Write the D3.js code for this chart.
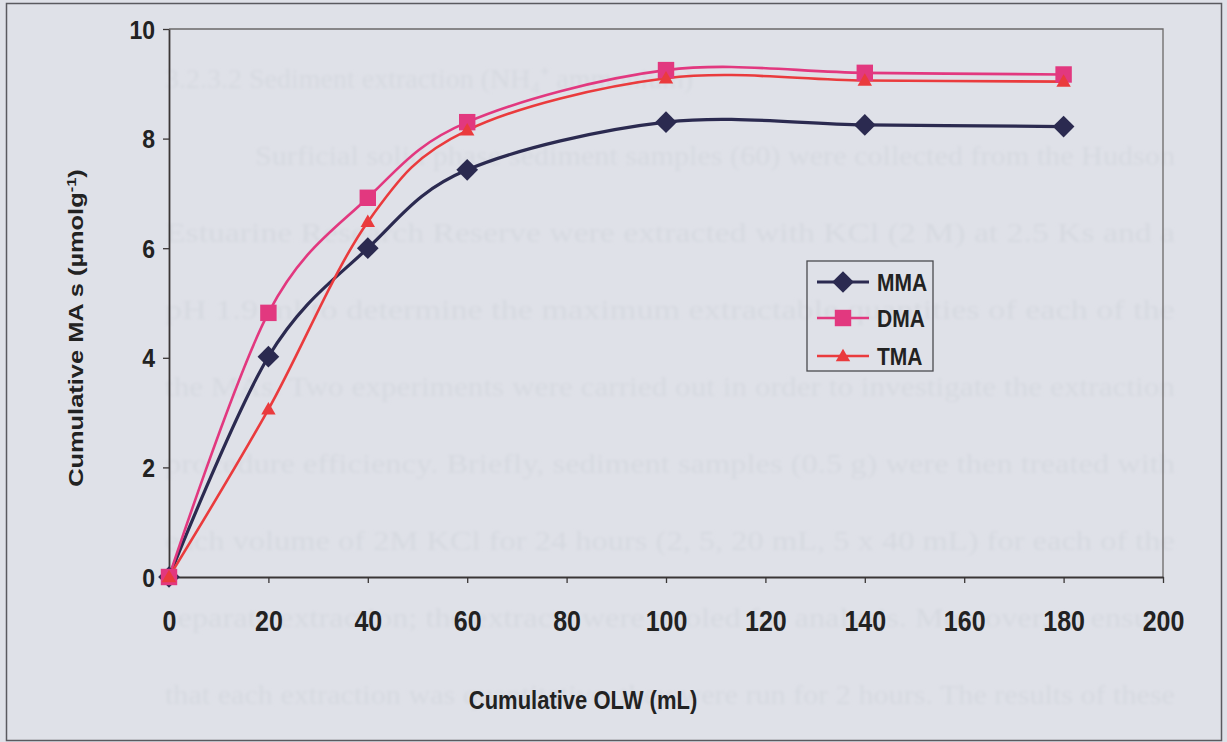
<!DOCTYPE html>
<html>
<head>
<meta charset="utf-8">
<script src="https://cdn.jsdelivr.net/npm/d3@7"></script>
<style>
  html, body { margin: 0; padding: 0; background: #dfe1e8; }
  svg { display: block; }
  text { font-family: "Liberation Sans", Arial, sans-serif; font-weight: bold; fill: #222; }
</style>
</head>
<body>
<svg id="chart" width="1227" height="742"></svg>
<script>
// Cumulative extraction volumes (mL) and cumulative MAs recovered (µmol g-1)
const volumes = [0, 20, 40, 60, 100, 140, 180];
const mma = [0, 4.02, 6.0, 7.43, 8.3, 8.25, 8.22];
const dma = [0, 4.82, 6.92, 8.3, 9.25, 9.2, 9.17];
const tma = [0, 3.06, 6.48, 8.15, 9.1, 9.06, 9.04];
const seriesNames = ["MMA", "DMA", "TMA"];
const xTicks = [0, 20, 40, 60, 80, 100, 120, 140, 160, 180, 200];
const yTicks = [0, 2, 4, 6, 8, 10];

// faint text printed on the reverse side of the page
const pageLines = [
  "3.2.3.2  Sediment extraction (NH\u2084\u207A ammonium)",
  "Surficial solid phase sediment samples (60) were collected from the Hudson",
  "Estuarine Research Reserve were extracted with KCl (2 M) at 2.5 Ks and a",
  "pH 1.9 ml to determine the maximum extractable quantities of each of the",
  "the MAs. Two experiments were carried out in order to investigate the extraction",
  "procedure efficiency. Briefly, sediment samples (0.5 g) were then treated with",
  "each volume of 2M KCl for 24 hours (2, 5, 20 mL, 5 x 40 mL) for each of the",
  "separate extraction; the extracts were pooled for analysis. Moreover, to ensure",
  "that each extraction was quantitative, they were run for 2 hours. The results of these"
];

const W = 1227, H = 742;
const svg = d3.select("#chart");

const defs = svg.append("defs");
defs.append("filter").attr("id", "soft")
  .attr("x", "-5%").attr("y", "-5%").attr("width", "110%").attr("height", "110%")
  .append("feGaussianBlur").attr("stdDeviation", 1.8);

svg.append("rect").attr("width", W).attr("height", H).attr("fill", "#dfe1e8");

// reverse-side text, justified to the page margin
const ghost = svg.append("g").attr("filter", "url(#soft)");
pageLines.forEach((t, i) => {
  const tx = i === 1 ? 255 : 165;
  const txt = ghost.append("text")
    .attr("x", tx).attr("y", 88 + i * 77)
    .style("font-family", "'Liberation Serif', 'Times New Roman', serif")
    .style("font-weight", "normal")
    .style("font-size", "28px")
    .style("fill", "#d6d9e0")
    .text(t);
  if (i > 0) txt.attr("textLength", 1175 - tx).attr("lengthAdjust", "spacingAndGlyphs");
});

// outer chart border
svg.append("rect")
  .attr("x", 6.5).attr("y", 3.5).attr("width", 1215).attr("height", 737)
  .attr("fill", "none").attr("stroke", "#5a5a5f").attr("stroke-width", 1.5);

const x = d3.scaleLinear().domain([0, 200]).range([169, 1163]);
const y = d3.scaleLinear().domain([0, 10]).range([577, 29]);

// plot frame (top and right)
svg.append("path")
  .attr("d", `M${x(0)},${y(10)}H${x(200)}V${y(0)}`)
  .attr("fill", "none").attr("stroke", "#6b6868").attr("stroke-width", 1.3);

// x axis
const gx = svg.append("g").attr("transform", `translate(0,${y(0)})`)
  .call(d3.axisBottom(x).tickValues(xTicks).tickSize(6).tickSizeOuter(0));
gx.select(".domain").attr("stroke", "#3a3636").attr("stroke-width", 1.8);
gx.selectAll(".tick line").attr("stroke", "#3a3636").attr("stroke-width", 1.3);
gx.selectAll(".tick text")
  .attr("y", 0).attr("dy", "0.36em")
  .attr("transform", "translate(0,43) scale(1,1.2)")
  .style("font-size", "25px").style("font-family", "'Liberation Sans', Arial, sans-serif")
  .style("font-weight", "bold").attr("fill", "#222");

// y axis
const gy = svg.append("g").attr("transform", `translate(${x(0)},0)`)
  .call(d3.axisLeft(y).tickValues(yTicks).tickSize(6).tickSizeOuter(0));
gy.select(".domain").attr("stroke", "#3a3636").attr("stroke-width", 1.8);
gy.selectAll(".tick line").attr("stroke", "#3a3636").attr("stroke-width", 1.3);
gy.selectAll(".tick text")
  .attr("x", -14).attr("y", 0).attr("dy", "0.36em")
  .attr("transform", "scale(1,1.1)")
  .style("font-size", "23px").style("font-family", "'Liberation Sans', Arial, sans-serif")
  .style("font-weight", "bold").attr("fill", "#222");

// axis titles
svg.append("g").attr("transform", "translate(583,699) scale(1,1.2)")
  .append("text").attr("text-anchor", "middle").attr("dy", "0.36em")
  .style("font-size", "22px").text("Cumulative OLW (mL)");

const yt = svg.append("g").attr("transform", "translate(76,328) rotate(-90) scale(1.27,1)")
  .append("text").attr("text-anchor", "middle").attr("dy", "0.36em")
  .style("font-size", "20px");
yt.append("tspan").text("Cumulative MA s (\u00B5molg");
yt.append("tspan").attr("baseline-shift", "super").style("font-size", "13px").text("-1");
yt.append("tspan").text(")");

// series
const colors = { MMA: "#2b2a50", DMA: "#e2387f", TMA: "#ea3b3d" };
const widths = { MMA: 3.2, DMA: 2.6, TMA: 2.6 };
const seriesData = { MMA: mma, DMA: dma, TMA: tma };

const line = d3.line()
  .x(d => x(d[0])).y(d => y(d[1]))
  .curve(d3.curveCardinal.tension(0));

const symbolFor = {
  MMA: d3.symbol().type(d3.symbolDiamond2).size(300),
  DMA: d3.symbol().type(d3.symbolSquare).size(270),
  TMA: d3.symbol().type(d3.symbolTriangle).size(90)
};

const drawOrder = ["MMA", "DMA", "TMA"];
drawOrder.forEach(name => {
  const pts = volumes.map((v, i) => [v, seriesData[name][i]]);
  svg.append("path").datum(pts)
    .attr("d", line)
    .attr("fill", "none")
    .attr("stroke", colors[name])
    .attr("stroke-width", widths[name]);
});
drawOrder.forEach(name => {
  const pts = volumes.map((v, i) => [v, seriesData[name][i]]);
  svg.append("g").selectAll("path").data(pts).join("path")
    .attr("d", symbolFor[name])
    .attr("transform", d => `translate(${x(d[0])},${y(d[1]) + (name === "TMA" ? 1 : 0)})`)
    .attr("fill", colors[name]);
});

// legend
const lg = svg.append("g");
lg.append("rect").attr("x", 807).attr("y", 261).attr("width", 126).attr("height", 110)
  .attr("fill", "none").attr("stroke", "#4a4a4f").attr("stroke-width", 1.3);
const legendY = [282, 318, 356];
seriesNames.forEach((name, i) => {
  const ly = legendY[i];
  lg.append("line").attr("x1", 817).attr("x2", 869).attr("y1", ly).attr("y2", ly)
    .attr("stroke", colors[name]).attr("stroke-width", widths[name]);
  lg.append("path").attr("d", symbolFor[name])
    .attr("transform", `translate(843,${ly + (name === "TMA" ? 1 : 0)})`)
    .attr("fill", colors[name]);
  lg.append("g").attr("transform", `translate(877,${ly}) scale(1,1.15)`)
    .append("text").attr("dy", "0.36em").style("font-size", "21px").text(name);
});
</script>
</body>
</html>
